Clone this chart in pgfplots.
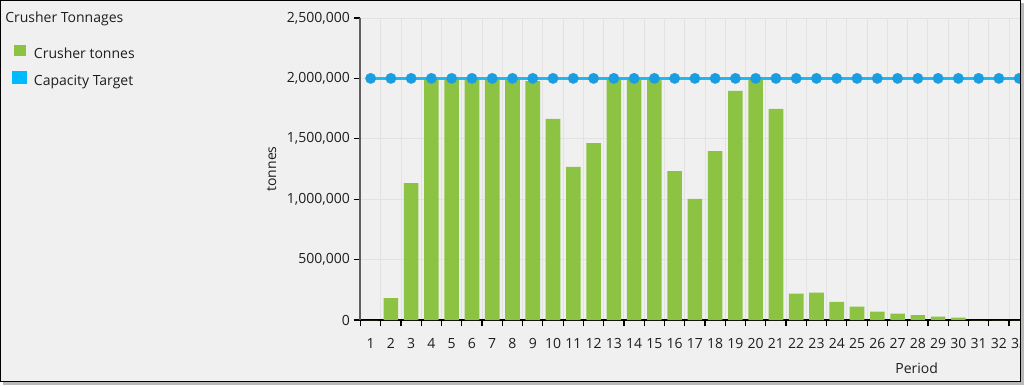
\documentclass[border=0pt]{standalone}
\usepackage{pgfplots}
\pgfplotsset{compat=1.18}
\usepackage{fontspec}
\setmainfont{Open Sans}
\definecolor{bgc}{HTML}{F0F0F0}
\definecolor{gridc}{HTML}{E2E2E2}
\definecolor{bargreen}{RGB}{141,195,66}
\definecolor{legblue}{RGB}{0,186,255}
\definecolor{linec}{RGB}{30,186,238}
\definecolor{markc}{RGB}{27,158,224}
\definecolor{txtc}{RGB}{30,30,30}
\definecolor{yaxc}{RGB}{95,95,95}
\begin{document}
\begin{tikzpicture}[font=\fontsize{10.5}{12.6}\selectfont]
\useasboundingbox (0,0) rectangle (1028*0.75pt,-388*0.75pt);
\fill[white] (0,0) rectangle (1028*0.75pt,-388*0.75pt);
\fill[bgc] (0.5*0.75pt,-0.5*0.75pt) rectangle (1020*0.75pt,-381.3*0.75pt);
\node[anchor=west, text=txtc, inner sep=0pt] at (5*0.75pt,-18.5*0.75pt) {Crusher Tonnages};
\begin{axis}[
  at={(360.5*0.75pt,-320*0.75pt)}, anchor=south west,
  scale only axis, width=494.6pt, height=226.5pt,
  xmin=0.5, xmax=33.04, ymin=0, ymax=2500000,
  axis x line*=bottom, axis y line*=left,
  x axis line style={black, line width=1.5pt, -},
  y axis line style={yaxc, line width=1.5pt, -},
  xtick={1,...,33},
  minor xtick={0.5,1.5,...,32.5},
  major x tick style={draw=none},
  minor x tick style={black, line width=0.9pt},
  y tick style={black, line width=0.9pt},
  tick align=outside,
  major tick length=4.5pt, minor tick length=4.5pt,
  xminorgrids=true, ymajorgrids=true, xmajorgrids=false,
  major grid style={gridc, line width=0.75pt},
  minor grid style={gridc, line width=0.75pt},
  ytick={0,500000,...,2500000},
  scaled y ticks=false,
  yticklabel style={/pgf/number format/.cd, fixed, precision=0, 1000 sep={,}},
  /pgf/number format/assume math mode=true,
  tick label style={text=txtc, font=\fontsize{10.5}{12.6}\selectfont},
  xticklabel style={inner xsep=0pt, yshift=-6pt},
  clip marker paths=true,
  every axis y label/.style={at={(axis description cs:-0.1347,0.5)}, rotate=90, anchor=center, text=txtc},
  every axis x label/.style={at={(axis description cs:0.8434,-0.159)}, anchor=center, text=txtc},
  ylabel={tonnes}, xlabel={Period},
  legend style={draw=none, fill=none, inner sep=0pt, at={(axis description cs:-0.5284,0.838)}, anchor=west,
    font=\fontsize{10.5}{12.6}\selectfont, text=txtc,
    nodes={inner sep=0pt, text height=7.5pt, text depth=2.5pt},
    row sep=7.3pt,
    /tikz/every odd column/.append style={column sep=5.25pt}},
  legend cell align=left,
]
\addplot[ybar, bar width=0.72, bar shift=0pt, fill=bargreen, draw=none,
  legend image code/.code={\fill[bargreen] (0pt,-1pt) rectangle (9pt,7pt);}]
  coordinates {
  (1,0) (2,182000) (3,1134000) (4,2000000) (5,2000000) (6,2000000) (7,2000000) (8,2000000)
  (9,1978000) (10,1664000) (11,1267000) (12,1465000) (13,2000000) (14,2000000) (15,2000000)
  (16,1233000) (17,1002000) (18,1399000) (19,1896000) (20,1995000) (21,1747000)
  (22,218000) (23,226000) (24,151000) (25,110000) (26,69000) (27,52000) (28,41000)
  (29,27000) (30,19000) (31,0) (32,0) (33,0)
  };
\addlegendentry{Crusher tonnes}
\addplot[linec, line width=2pt, mark=*, mark size=4pt, mark options={fill=markc, draw=markc, line width=0.1pt},
  legend image code/.code={\fill[legblue] (0pt,-1pt) rectangle (9pt,7pt);}]
  coordinates {
  (1,2000000) (2,2000000) (3,2000000) (4,2000000) (5,2000000) (6,2000000) (7,2000000) (8,2000000)
  (9,2000000) (10,2000000) (11,2000000) (12,2000000) (13,2000000) (14,2000000) (15,2000000)
  (16,2000000) (17,2000000) (18,2000000) (19,2000000) (20,2000000) (21,2000000) (22,2000000)
  (23,2000000) (24,2000000) (25,2000000) (26,2000000) (27,2000000) (28,2000000) (29,2000000)
  (30,2000000) (31,2000000) (32,2000000) (33,2000000)
  };
\addlegendentry{Capacity Target}
\end{axis}
\fill[white] (1020*0.75pt,0) rectangle (1028*0.75pt,-388*0.75pt);
\fill[white] (0,-381.3*0.75pt) rectangle (1028*0.75pt,-388*0.75pt);
\fill[gray!55] (1020.7*0.75pt,-3*0.75pt) rectangle (1023.5*0.75pt,-384.5*0.75pt);
\fill[gray!55] (3*0.75pt,-382*0.75pt) rectangle (1023.5*0.75pt,-384.5*0.75pt);
\draw[black, line width=1pt] (0.6*0.75pt,-0.6*0.75pt) rectangle (1020.2*0.75pt,-381.3*0.75pt);
\end{tikzpicture}
\end{document}
